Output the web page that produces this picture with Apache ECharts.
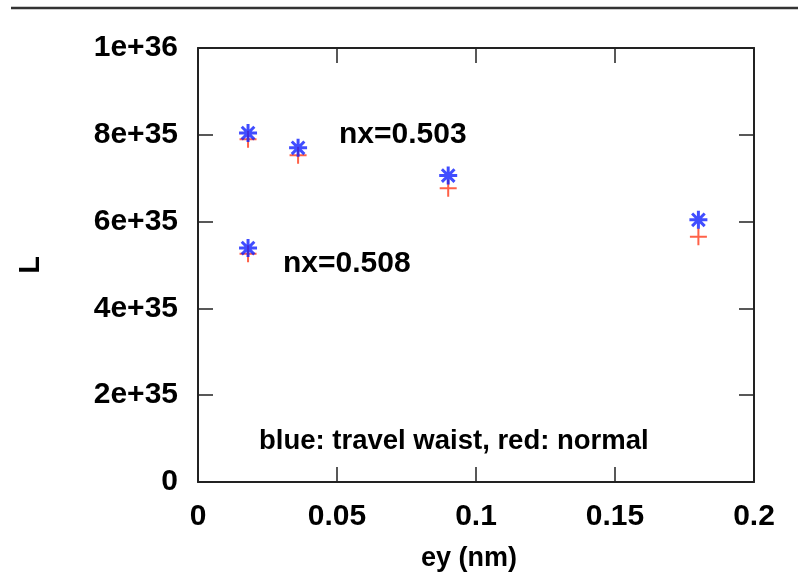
<!DOCTYPE html>
<html>
<head>
<meta charset="utf-8">
<script src="https://cdn.jsdelivr.net/npm/echarts@6/dist/echarts.min.js"></script>
<style>
  html, body { margin: 0; padding: 0; background: #fff; }
  #chart { width: 798px; height: 573px; }
</style>
</head>
<body>
<div id="chart"></div>
<script>
// ey values (nm) for each measured point
const ey = [0.018, 0.036, 0.09, 0.18, 0.018];
// luminosity, travel waist (blue) and normal (red)
const travelWaist = [8.04e35, 7.70e35, 7.06e35, 6.04e35, 5.39e35];
const normal = [7.90e35, 7.53e35, 6.77e35, 5.65e35, 5.26e35];

const xTickLabels = ['0', '0.05', '0.1', '0.15', '0.2'];
const yTickLabels = ['0', '2e+35', '4e+35', '6e+35', '8e+35', '1e+36'];

const notes = ['nx=0.503', 'nx=0.508', 'blue: travel waist, red: normal'];

const font = '"Liberation Sans", Arial, sans-serif';
const plusPath = 'path://M0,5L10,5M5,0L5,10';
const starPath = 'path://M0,5L10,5M5,0L5,10M1.5,1.5L8.5,8.5M1.5,8.5L8.5,1.5';

const chart = echarts.init(document.getElementById('chart'));

const frameLine = { show: true, onZero: false, lineStyle: { color: '#222', width: 2 } };
const tick = { show: true, inside: true, length: 15, lineStyle: { color: '#222', width: 1.5 } };
const tickLabel = { fontFamily: font, fontWeight: 'bold', fontSize: 30, color: '#000', margin: 20 };

const xBase = { type: 'value', min: 0, max: 0.2, interval: 0.05, splitLine: { show: false }, axisLine: frameLine, axisTick: tick };
const yBase = { type: 'value', min: 0, max: 1e36, interval: 2e35, splitLine: { show: false }, axisLine: frameLine, axisTick: tick };

chart.setOption({
  animation: false,
  grid: { left: 198, right: 44, top: 48, bottom: 91, outerBoundsMode: 'none' },
  xAxis: [
    Object.assign({}, xBase, {
      position: 'bottom',
      name: 'ey (nm)',
      nameLocation: 'middle',
      nameGap: 63,
      nameTextStyle: { fontFamily: font, fontWeight: 'bold', fontSize: 27, color: '#000', padding: [0, 14, 0, 0] },
      axisLabel: Object.assign({}, tickLabel, {
        formatter: (v) => xTickLabels[Math.round(v / 0.05)]
      })
    }),
    Object.assign({}, xBase, { position: 'top', axisLabel: { show: false } })
  ],
  yAxis: [
    Object.assign({}, yBase, {
      position: 'left',
      name: 'L',
      nameLocation: 'middle',
      nameRotate: 90,
      nameGap: 153,
      nameTextStyle: { fontFamily: font, fontWeight: 'bold', fontSize: 29, color: '#000' },
      axisLabel: Object.assign({}, tickLabel, {
        formatter: (v) => yTickLabels[Math.round(v / 2e35)]
      })
    }),
    Object.assign({}, yBase, { position: 'right', axisLabel: { show: false } })
  ],
  series: [
    {
      name: 'normal',
      type: 'scatter',
      symbol: plusPath,
      symbolSize: 17,
      itemStyle: { color: 'transparent', borderColor: '#ff3a1a', borderWidth: 2 },
      data: ey.map((x, i) => [x, normal[i]]),
      z: 2
    },
    {
      name: 'travel waist',
      type: 'scatter',
      symbol: starPath,
      symbolSize: 18,
      itemStyle: { color: 'transparent', borderColor: '#1020ff', borderWidth: 3 },
      data: ey.map((x, i) => [x, travelWaist[i]]),
      z: 3
    }
  ],
  graphic: [
    { type: 'line', shape: { x1: 11, y1: 8, x2: 798, y2: 8 }, style: { stroke: '#333', lineWidth: 2.5 } },
    { type: 'text', style: { text: notes[0], x: 339, y: 135, fill: '#000', font: 'bold 30px ' + font, verticalAlign: 'middle' } },
    { type: 'text', style: { text: notes[1], x: 283, y: 264, fill: '#000', font: 'bold 30px ' + font, verticalAlign: 'middle' } },
    { type: 'text', style: { text: notes[2], x: 259, y: 441, fill: '#000', font: 'bold 27.5px ' + font, verticalAlign: 'middle' } }
  ]
});
</script>
</body>
</html>
